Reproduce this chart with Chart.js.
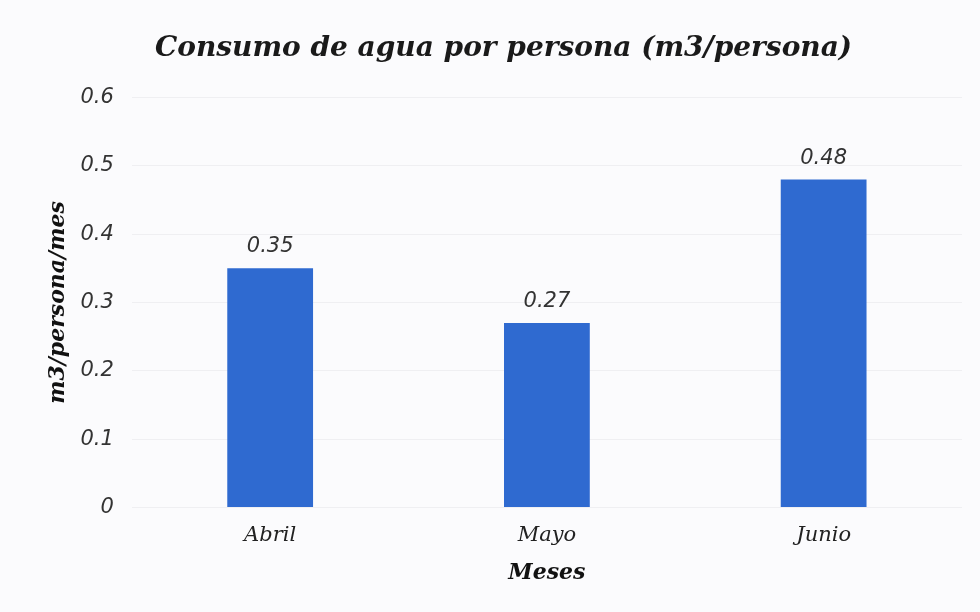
<!DOCTYPE html>
<html>
<head>
<meta charset="utf-8">
<script src="https://cdn.jsdelivr.net/npm/chart.js@4.4.0/dist/chart.umd.min.js"></script>
<style>
  html, body { margin: 0; padding: 0; background: #fbfbfd; }
  #wrap { width: 980px; height: 612px; }
</style>
</head>
<body>
<div id="wrap"><canvas id="waterChart"></canvas></div>
<script>
const months = ['Abril', 'Mayo', 'Junio'];
const consumo = [0.35, 0.27, 0.48];
const yTicks = [0, 0.1, 0.2, 0.3, 0.4, 0.5, 0.6];

const barColor = '#2f6ad0';
const serif = "'DejaVu Serif', serif";
const sans = "'DejaVu Sans', sans-serif";

// labels drawn above each bar
const valueLabels = {
    id: 'valueLabels',
    afterDatasetsDraw(chart) {
        const ctx = chart.ctx;
        const meta = chart.getDatasetMeta(0);
        ctx.save();
        ctx.font = 'italic 21px ' + sans;
        ctx.fillStyle = '#333';
        ctx.textAlign = 'center';
        ctx.textBaseline = 'bottom';
        meta.data.forEach((bar, i) => {
            ctx.fillText(String(consumo[i]), bar.x, bar.y - 11);
        });
        ctx.restore();
    }
};

new Chart(document.getElementById('waterChart'), {
    type: 'bar',
    data: {
        labels: months,
        datasets: [{
            data: consumo,
            backgroundColor: barColor,
            borderWidth: 0,
            categoryPercentage: 1,
            barPercentage: 0.31
        }]
    },
    options: {
        responsive: true,
        maintainAspectRatio: false,
        animation: false,
        layout: { padding: { left: 45, right: 18, top: 32, bottom: 26 } },
        scales: {
            x: {
                grid: { display: false },
                border: { display: false },
                ticks: { color: '#222', font: { family: serif, style: 'italic', size: 21 }, padding: 8 },
                title: { display: true, text: 'Meses', color: '#111', font: { family: serif, style: 'italic', weight: 'bold', size: 22 }, padding: { top: 3, bottom: 0 } }
            },
            y: {
                min: 0, max: 0.6,
                afterBuildTicks: axis => { axis.ticks = yTicks.map(v => ({ value: v })); },
                grid: { color: '#efeff2', lineWidth: 1, drawTicks: false },
                border: { display: false },
                ticks: { color: '#333', font: { family: sans, style: 'italic', size: 21 }, padding: 18 },
                title: { display: true, text: 'm3/persona/mes', color: '#111', font: { family: serif, style: 'italic', weight: 'bold', size: 22 }, padding: { top: 0, bottom: -9 } }
            }
        },
        plugins: {
            legend: { display: false },
            tooltip: { enabled: false },
            title: {
                display: true,
                text: 'Consumo de agua por persona (m3/persona)',
                color: '#1a1a1a',
                font: { family: serif, style: 'italic', weight: 'bold', size: 28 },
                padding: { top: 0, bottom: 32 }
            }
        }
    },
    plugins: [valueLabels]
});
</script>
</body>
</html>
